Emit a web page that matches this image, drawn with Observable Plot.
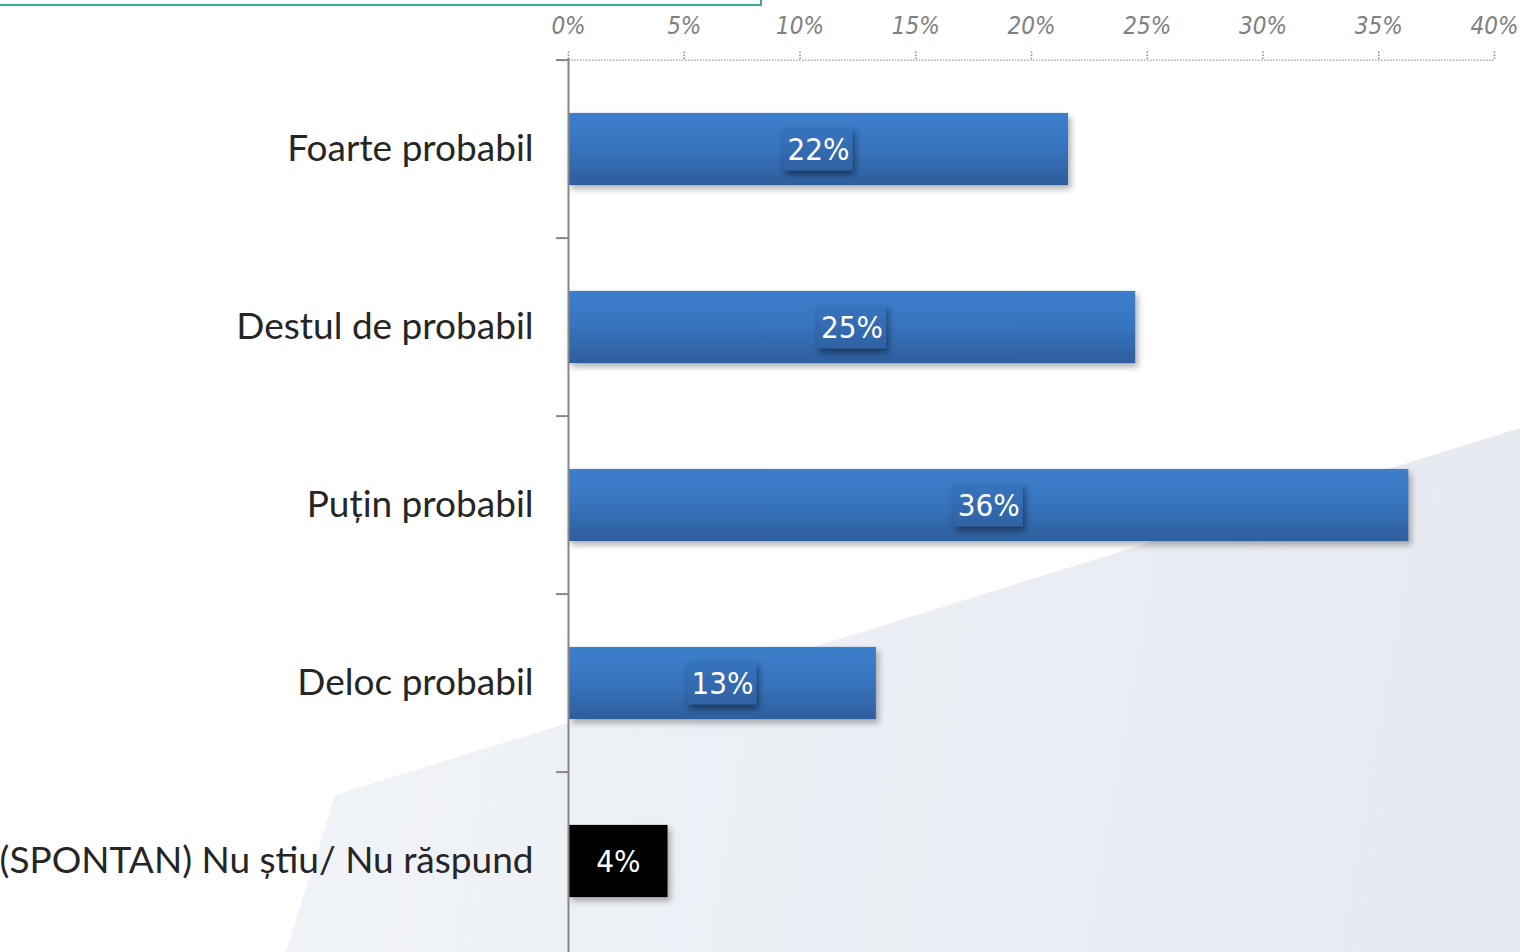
<!DOCTYPE html>
<html>
<head>
<meta charset="utf-8">
<script src="https://cdn.jsdelivr.net/npm/d3@7"></script>
<script src="https://cdn.jsdelivr.net/npm/@observablehq/plot@0.6"></script>
<style>
html, body { margin: 0; padding: 0; background: #ffffff; }
#wrap { position: relative; width: 1520px; height: 952px; overflow: hidden; background: #ffffff; }
#bg { position: absolute; left: 0; top: 0; width: 1520px; height: 952px;
      clip-path: polygon(335px 795px, 1520px 428px, 1520px 952px, 286px 952px);
      background: linear-gradient(100deg, #f4f6f9 0%, #eef1f6 40%, #e6e9f0 100%); }
#box { position: absolute; left: -4px; top: -58px; width: 762px; height: 60px; border: 2px solid #3aa99a; }
#chart { position: absolute; left: 0; top: 0; }
</style>
</head>
<body>
<div id="wrap">
  <div id="bg"></div>
  <div id="box"></div>
  <div id="chart"></div>
</div>
<script>
const categories = ["Foarte probabil", "Destul de probabil", "Puțin probabil", "Deloc probabil", "(SPONTAN) Nu știu/ Nu răspund"];
const values = [21.6, 24.5, 36.3, 13.3, 4.3];
const valueLabels = ["22%", "25%", "36%", "13%", "4%"];
const xTicks = [0, 5, 10, 15, 20, 25, 30, 35, 40];

const data = categories.map((c, i) => ({cat: c, value: values[i], label: valueLabels[i]}));
const blue = data.slice(0, 4);
const other = data.slice(4);

const W = 1520, H = 952, mTop = 58, mBottom = 0, mLeft = 568, mRight = 26;
const step = (H - mTop - mBottom) / categories.length;
const barH = 73, boxH = 44, boxHalf = 1.5;
const barInset = (step - barH) / 2;
const boxInset = (step - boxH) / 2;
const narrow = "'Liberation Sans Narrow', 'DejaVu Sans Condensed', 'Roboto Condensed', Lato, sans-serif";

const svg = Plot.plot({
  width: W,
  height: H,
  marginTop: mTop,
  marginBottom: mBottom,
  marginLeft: mLeft,
  marginRight: mRight,
  style: {background: "transparent", overflow: "visible"},
  x: {domain: [0, 40], label: null},
  y: {domain: categories, padding: 0, label: null},
  marks: [
    // top dotted axis line
    Plot.ruleY([categories[0]], {dy: -step / 2, stroke: "#9a9a9a", strokeWidth: 1.2, strokeDasharray: "1.5,1.5"}),
    Plot.axisX({anchor: "top", ticks: xTicks, tickFormat: d => d + "%", tickSize: 8, tickPadding: 17, label: null,
      stroke: "#8a8a8a", strokeWidth: 1.5, strokeDasharray: "1.5,1.5", fill: "#808080",
      fontSize: 24, fontStyle: "italic", fontFamily: narrow}),
    // bars
    Plot.barX(blue, {x: "value", y: "cat", fill: "url(#barGrad)", insetTop: barInset, insetBottom: barInset}),
    Plot.barX(other, {x: "value", y: "cat", fill: "#000000", insetTop: barInset, insetBottom: barInset}),
    // label boxes
    Plot.barX(blue, {x1: d => d.value / 2 - boxHalf, x2: d => d.value / 2 + boxHalf, y: "cat", fill: "url(#boxGrad)", insetTop: boxInset, insetBottom: boxInset}),
    Plot.text(data, {x: d => d.value / 2, y: "cat", text: "label", fill: "#ffffff", fontSize: 31, dy: 1,
      fontFamily: narrow, lineAnchor: "middle", textAnchor: "middle"}),
    // y axis line
    Plot.ruleX([0], {stroke: "#878787", strokeWidth: 2}),
    // boundary ticks
    Plot.axisY({ticks: categories, tickSize: 12, stroke: "#878787", strokeWidth: 2, fill: "none", dy: -step / 2, label: null}),
    // category labels
    Plot.text(data, {x: 0, y: "cat", text: "cat", textAnchor: "end", dx: -35, lineAnchor: "middle",
      fill: "#262626", fontSize: 37, fontFamily: "Lato, 'Open Sans', sans-serif"})
  ]
});

const s = d3.select(svg);
const defs = s.insert("defs", ":first-child");
const g1 = defs.append("linearGradient").attr("id", "barGrad").attr("x1", 0).attr("y1", 0).attr("x2", 0).attr("y2", 1);
g1.append("stop").attr("offset", "0%").attr("stop-color", "#3d7fcc");
g1.append("stop").attr("offset", "45%").attr("stop-color", "#3875c0");
g1.append("stop").attr("offset", "100%").attr("stop-color", "#2e5e9d");
const g2 = defs.append("linearGradient").attr("id", "boxGrad").attr("x1", 0).attr("y1", 0).attr("x2", 0).attr("y2", 1);
g2.append("stop").attr("offset", "0%").attr("stop-color", "#3774bf");
g2.append("stop").attr("offset", "100%").attr("stop-color", "#2f62a3");
s.selectAll("g").filter(function() {
  const f = this.getAttribute("fill");
  return f === "url(#barGrad)" || f === "#000000" || f === "black";
}).selectAll("rect").style("filter", "drop-shadow(3px 4px 3px rgba(0,0,0,0.3))");
s.selectAll("g").filter(function() { return this.getAttribute("fill") === "url(#boxGrad)"; })
  .selectAll("rect").style("filter", "drop-shadow(2px 4px 3px rgba(0,0,0,0.45))");

document.getElementById("chart").appendChild(svg);
</script>
</body>
</html>
